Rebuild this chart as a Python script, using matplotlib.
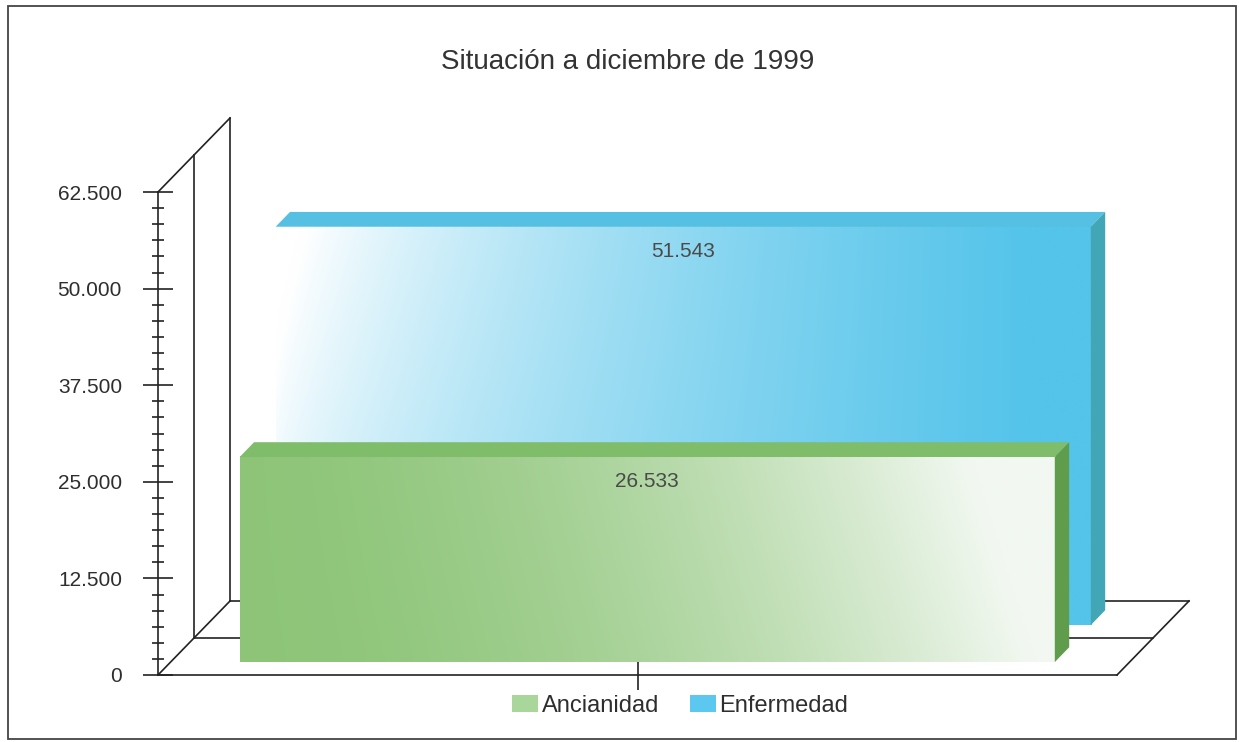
import numpy as np
import matplotlib
matplotlib.use('Agg')
import matplotlib.pyplot as plt
from matplotlib.patches import Polygon, Rectangle, Patch
from matplotlib.ticker import MultipleLocator, FuncFormatter

plt.rcParams['font.family'] = ['Liberation Sans', 'DejaVu Sans']

# data
title = 'Situación a diciembre de 1999'
series = ['Ancianidad', 'Enfermedad']
values = [26533, 51543]
labels = ['26.533', '51.543']
y_max = 62500
y_step = 12500

W, H = 1239, 742
fig = plt.figure(figsize=(W / 100, H / 100), dpi=100)

# front plane of the plot, in pixels
left_px, right_px, top_px, bottom_px = 158, 1117, 192, 675
ax = fig.add_axes([left_px / W, 1 - bottom_px / H,
                   (right_px - left_px) / W, (bottom_px - top_px) / H])
ax.set_xlim(-0.5, 0.5)
ax.set_ylim(0, y_max)

# one row of depth = 36 px right, 37 px up
px_x = (right_px - left_px)
px_y = (bottom_px - top_px) / y_max


def dx(d):
    return d * 36 / px_x


def dy(d):
    return d * 37 / px_y


line_kw = dict(color='#222222', lw=1.2, clip_on=False, zorder=1)

# walls and floor
for d in (1, 2):
    ax.plot([-0.5 + dx(d)] * 2, [dy(d), y_max + dy(d)], **line_kw)
    ax.plot([-0.5 + dx(d), 0.5 + dx(d)], [dy(d), dy(d)], **line_kw)
ax.plot([-0.5, -0.5 + dx(2)], [y_max, y_max + dy(2)], **line_kw)
ax.plot([-0.5, -0.5 + dx(2)], [0, dy(2)], **line_kw)
ax.plot([0.5, 0.5 + dx(2)], [0, dy(2)], **line_kw)

front_cols = [('#88c272', '#f2f8f1'), ('#ffffff', '#55c4ea')]
top_cols = ['#80bd6a', '#55c0e2']
side_cols = ['#5f9c4c', '#43a6b6']

x0, x1 = -0.428, 0.422
for i in [1, 0]:
    v = values[i]
    a, b = i + 0.35, i + 0.75
    z = 3 + (1 - i) * 3
    fx0, fx1 = x0 + dx(a), x1 + dx(a)
    fy0, fy1 = dy(a), v + dy(a)

    # gradient front face
    t = np.linspace(0, 1, 240)[None, :]
    s = np.linspace(0, 1, 80)[:, None]
    if i == 0:
        w = np.clip(0.05 + t ** 1.8 + 0.15 * s * t, 0, 1)
    else:
        w = np.clip(0.2 + 0.85 * t ** 0.7 - 0.3 * s * (1 - t) ** 2, 0, 1)
    c0 = np.array(matplotlib.colors.to_rgb(front_cols[i][0]))
    c1 = np.array(matplotlib.colors.to_rgb(front_cols[i][1]))
    img = c0[None, None, :] * (1 - w[..., None]) + c1[None, None, :] * w[..., None]
    ax.imshow(img, extent=(fx0, fx1, fy0, fy1), origin='lower',
              aspect='auto', interpolation='bicubic', zorder=z, clip_on=False)

    top = [(fx0, fy1), (fx1, fy1), (x1 + dx(b), v + dy(b)), (x0 + dx(b), v + dy(b))]
    ax.add_patch(Polygon(top, closed=True, fc=top_cols[i], ec='none',
                         zorder=z, clip_on=False))
    side = [(fx1, fy0), (x1 + dx(b), dy(b)), (x1 + dx(b), v + dy(b)), (fx1, fy1)]
    ax.add_patch(Polygon(side, closed=True, fc=side_cols[i], ec='none',
                         zorder=z, clip_on=False))

    ax.annotate(labels[i], ((fx0 + fx1) / 2, fy1), xytext=(0, -11),
                textcoords='offset points', ha='center', va='top',
                fontsize=15, color='#4a4a4a', zorder=z + 1)

ax.set_xlim(-0.5, 0.5)
ax.set_ylim(0, y_max)
ax.set_facecolor('none')

# axes
for sp in ['top', 'right']:
    ax.spines[sp].set_visible(False)
for sp in ['left', 'bottom']:
    ax.spines[sp].set_color('#222222')
    ax.spines[sp].set_linewidth(1.2)
    ax.spines[sp].set_zorder(10)

ax.yaxis.set_major_locator(MultipleLocator(y_step))
ax.yaxis.set_minor_locator(MultipleLocator(y_step / 6))
ax.yaxis.set_major_formatter(FuncFormatter(lambda v, p: f'{int(v):,}'.replace(',', '.')))
ax.tick_params(axis='y', which='major', direction='inout', length=22, width=1.2,
               color='#222222', labelsize=15, labelcolor='#2e2e2e', pad=15)
ax.tick_params(axis='y', which='minor', direction='inout', length=9, width=1.2,
               color='#222222')
ax.set_xticks([0])
ax.set_xticklabels([''])
ax.tick_params(axis='x', direction='inout', length=22, width=1.2, color='#222222')

fig.text(628 / W, 1 - 62 / H, title, ha='center', va='center',
         fontsize=20, color='#333333')

handles = [Patch(fc='#a9d69b', ec='none'), Patch(fc='#5cc8ef', ec='none')]
fig.legend(handles, series, loc='center', bbox_to_anchor=(680 / W, 1 - 706 / H),
           ncol=2, frameon=False, fontsize=17, handlelength=1.1, handleheight=0.7,
           handletextpad=0.15, columnspacing=1.3, labelcolor='#2e2e2e')

# outer frame
fig.add_artist(Rectangle((8 / W, 1 - 739 / H), 1228 / W, 733 / H,
                         transform=fig.transFigure, fill=False,
                         ec='#444444', lw=1.3))

fig.savefig('out.png', dpi=100)
